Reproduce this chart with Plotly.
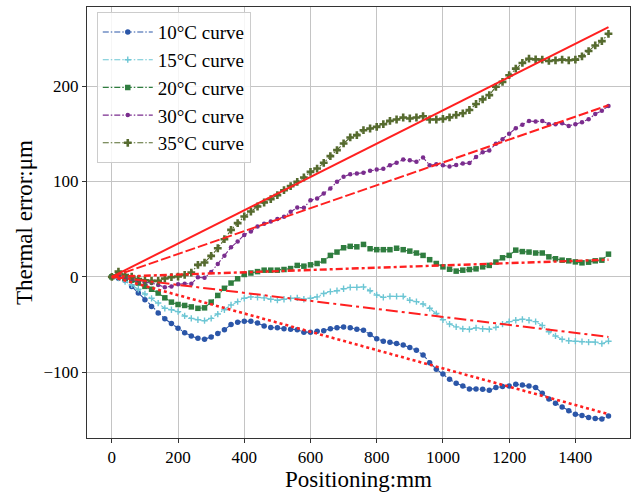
import plotly.graph_objects as go

positions = [0, 20, 40, 60, 80, 100, 120, 140, 160, 180, 200, 220, 240, 260, 280, 300, 320, 340, 360, 380,
             400, 420, 440, 460, 480, 500, 520, 540, 560, 580, 600, 620, 640, 660, 680, 700, 720, 740, 760, 780,
             800, 820, 840, 860, 880, 900, 920, 940, 960, 980, 1000, 1020, 1040, 1060, 1080, 1100, 1120, 1140,
             1160, 1180, 1200, 1220, 1240, 1260, 1280, 1300, 1320, 1340, 1360, 1380, 1400, 1420, 1440, 1460,
             1480, 1500]

err_10C = [0, -1.5, -3.5, -10, -17, -24, -31, -38, -44, -49, -54, -58.5, -62, -64.5, -65.5, -63, -59.5, -55.5,
           -50, -47.5, -46.5, -46.5, -48.5, -51.5, -53, -53.5, -54.5, -55, -55.5, -58, -58, -57, -56.5, -54.5,
           -53.5, -52.5, -53.5, -55, -56, -60.5, -65, -67.5, -68.5, -70, -71.5, -74, -77, -82, -90, -97, -102,
           -107.5, -111.5, -114.5, -117.5, -117.5, -118, -119, -116, -115, -114.5, -112.5, -113.5, -114.5, -116,
           -122, -128, -132.5, -136.5, -140.5, -144, -145.5, -147.5, -148.5, -149, -146]

err_15C = [0, -1.4, -5, -8.5, -13, -18, -22.5, -27.5, -33, -34.5, -36.5, -41, -43.5, -45, -46, -43.5, -39, -34.5,
           -29.5, -26, -22.5, -21, -21.5, -22, -23.5, -24.5, -23.5, -22.5, -22, -23.5, -22.5, -21, -17.5, -15.5,
           -14.5, -12.5, -11, -11, -10.5, -14.5, -19, -21.5, -20.5, -20.5, -20.5, -24.5, -26, -28.5, -33, -38.5,
           -45, -49.5, -52.5, -54.5, -55, -53.5, -54.5, -55, -53, -49.5, -47, -45.5, -44.5, -45.5, -47, -51,
           -57.5, -62, -65.5, -67, -67.5, -68, -68.5, -68.5, -70, -67.5]

err_20C = [0, 2, -1.5, -3.5, -6.5, -10, -13, -17, -22, -26.5, -29, -30, -31.5, -33, -32.5, -26.5, -19.5, -12,
           -6.5, -2, 2.5, 4, 5.5, 7, 7, 7, 7.7, 8.7, 12, 11.2, 12.6, 14, 16.8, 22.5, 26, 30.5, 32, 31.5, 34, 29.5,
           28.5, 28.5, 28.5, 30, 28.5, 27, 25, 22.5, 18, 14, 10.5, 8, 6, 7, 7.7, 8.4, 10.5, 12, 15.5, 20, 22.5,
           28, 26.5, 26, 25, 25, 21, 19, 17.5, 16.8, 15.7, 14.7, 15.4, 16.8, 17.5, 23.8]

err_30C = [0, 0.5, -1, -2.5, -5, -6, -6.5, -8.5, -10.8, -10, -7.7, -7.3, -7.3, -0.5, -1, 5, 13.5, 22, 31, 37,
           44, 47.6, 52.8, 55.6, 58, 60.8, 62.9, 68.2, 72.7, 72.4, 80.4, 82.2, 87.4, 92.7, 99.7, 104.9, 107.7,
           108.4, 109.1, 111.2, 112.6, 113.3, 117.1, 119.6, 123.1, 122.4, 120.6, 125.2, 117.1, 118.2, 117.1,
           115.7, 117.4, 118.8, 119.4, 125.7, 130.6, 132.6, 139.6, 144.4, 150, 155.9, 159.4, 163.5, 162.8,
           163.5, 160.1, 160.1, 161.1, 158.3, 160.1, 162.2, 165.3, 170.8, 174.3, 179.2]

err_35C = [0, 5.5, 2, 0.3, -2.4, -3.5, -4.2, -4.2, -1.8, -0.3, 0.3, 2.1, 4.5, 12.6, 15, 22, 30, 39.5, 49.3,
           56.3, 63.3, 68.5, 73.8, 78, 81.5, 85.7, 90.9, 95.1, 99.7, 104.2, 110.1, 113.6, 119.6, 126.6, 132.9,
           139.9, 146.2, 148.6, 153.8, 155.6, 157.3, 160.1, 163.6, 165, 167.1, 166.1, 167.1, 168.5, 165, 165,
           165.7, 167.2, 169.8, 171.5, 175, 181.3, 186.1, 190.6, 199.3, 204.5, 211.5, 218.4, 224.3, 228.8,
           228.1, 227.8, 226.4, 227.1, 227.8, 227.1, 227.8, 231.3, 236.8, 242.7, 247.2, 254.9]

# linear fit lines: values at the two ends of the positioning range
fit_x = [0, 1500]
fit_10C = [0, -144]
fit_15C = [0, -63]
fit_20C = [0, 18]
fit_30C = [0, 180]
fit_35C = [0, 262]

series_names = ["10°C curve", "15°C curve", "20°C curve", "30°C curve", "35°C curve"]

FONT = "Liberation Serif"

fig = go.Figure()

styles = [
    (err_10C, "#2b56a8", "circle", 5.5, 0),
    (err_15C, "#6cc6d4", "cross-thin-open", 4.5, 1.4),
    (err_20C, "#2f7d3f", "square", 5.5, 0),
    (err_30C, "#7a2d8e", "circle", 4.5, 0),
    (err_35C, "#566b2f", "cross", 6.5, 0),
]

for i, (name, (vals, col, sym, size, lw)) in enumerate(zip(series_names, styles)):
    marker = dict(symbol=sym, size=size, color=col)
    if lw:
        marker["line"] = dict(color=col, width=lw)
    else:
        marker["line"] = dict(width=0)
    fig.add_trace(go.Scatter(
        x=positions, y=vals, name=name, mode="lines+markers",
        line=dict(color=col, width=1.1, dash="6px,2px,1.5px,2px"),
        marker=marker,
    ))

fits = [
    (fit_10C, "3px,3px", 2.6),
    (fit_15C, "12px,4px,3px,4px", 2),
    (fit_20C, "7px,3px,3px,3px", 2.4),
    (fit_30C, "10px,3px", 2),
    (fit_35C, "solid", 2),
]
for vals, dash, w in fits:
    fig.add_trace(go.Scatter(
        x=fit_x, y=vals, mode="lines", showlegend=False,
        line=dict(color="#ff2020", width=w, dash=dash),
    ))

axis_common = dict(
    showgrid=True, gridcolor="#c4c4c4", gridwidth=1,
    zeroline=False,
    showline=True, linecolor="#333333", linewidth=1, mirror=True,
    ticks="outside", ticklen=4, tickcolor="#333333", tickwidth=1,
    tickfont=dict(family=FONT, size=17, color="black"),
)

fig.update_layout(
    width=633, height=492,
    margin=dict(l=87, r=3, t=7, b=54),
    paper_bgcolor="white", plot_bgcolor="white",
    font=dict(family=FONT, color="black"),
    xaxis=dict(range=[-75, 1565], tickvals=[0, 200, 400, 600, 800, 1000, 1200, 1400],
               title=dict(text="Positioning:mm", font=dict(family=FONT, size=23), standoff=6),
               **axis_common),
    yaxis=dict(range=[-169, 283], tickvals=[-100, 0, 100, 200],
               title=dict(text="Thermal error:μm", font=dict(family=FONT, size=23), standoff=4),
               **axis_common),
    legend=dict(x=0.018, y=0.988, xanchor="left", yanchor="top",
                bgcolor="rgba(255,255,255,0.85)", bordercolor="#cccccc", borderwidth=1,
                font=dict(family=FONT, size=19), itemwidth=50),
    showlegend=True,
)

fig.write_html("out.html", config={"displayModeBar": False},
               post_script="document.body.style.margin='0px';document.body.style.overflow='hidden';")
